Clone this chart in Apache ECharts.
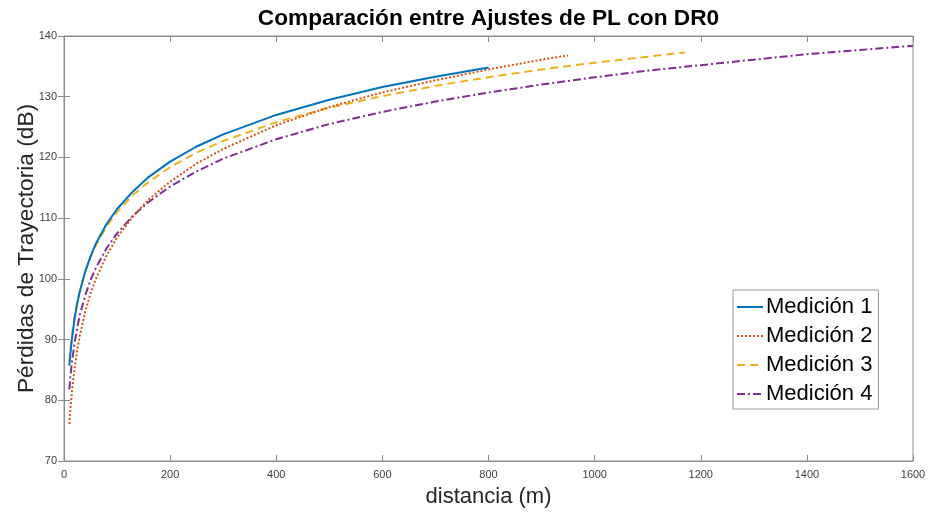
<!DOCTYPE html>
<html>
<head>
<meta charset="utf-8">
<script src="https://cdn.jsdelivr.net/npm/echarts@6/dist/echarts.min.js"></script>
<style>
  html, body { margin: 0; padding: 0; background: #fff; }
  #chart { width: 928px; height: 513px; }
</style>
</head>
<body>
<div id="chart"></div>
<script>
// distancias (m) y pérdidas (dB)
var dist1 = [10, 12, 15, 20, 25, 30, 40, 50, 60, 80, 100, 130, 160, 200, 250, 300, 400, 500, 600, 700, 800];
var med1  = [85.7, 87.7, 90.2, 93.5, 96.0, 98.0, 101.2, 103.7, 105.8, 109.0, 111.5, 114.4, 116.8, 119.3, 121.8, 123.8, 127.0, 129.5, 131.6, 133.3, 134.8];

var dist2 = [10, 12, 15, 20, 25, 30, 40, 50, 60, 80, 100, 130, 160, 200, 250, 300, 400, 500, 600, 700, 800, 900, 950];
var med2  = [76.1, 78.5, 81.5, 85.3, 88.3, 90.7, 94.6, 97.6, 100.0, 103.8, 106.8, 110.3, 113.1, 116.0, 119.0, 121.4, 125.3, 128.3, 130.7, 132.7, 134.5, 136.1, 136.8];

var dist3 = [10, 12, 15, 20, 25, 30, 40, 50, 60, 80, 100, 130, 160, 200, 250, 300, 400, 500, 600, 700, 800, 900, 1000, 1100, 1170];
var med3  = [86.4, 88.3, 90.7, 93.8, 96.2, 98.1, 101.2, 103.6, 105.5, 108.6, 111.0, 113.8, 116.0, 118.4, 120.8, 122.7, 125.8, 128.2, 130.1, 131.8, 133.2, 134.5, 135.6, 136.6, 137.3];

var dist4 = [10, 12, 15, 20, 25, 30, 40, 50, 60, 80, 100, 130, 160, 200, 250, 300, 400, 500, 600, 700, 800, 900, 1000, 1100, 1200, 1300, 1400, 1500, 1600];
var med4  = [81.8, 83.8, 86.3, 89.5, 92.0, 94.1, 97.3, 99.8, 101.8, 105.0, 107.5, 110.4, 112.7, 115.2, 117.7, 119.8, 123.0, 125.5, 127.5, 129.2, 130.7, 132.0, 133.2, 134.3, 135.2, 136.1, 137.0, 137.7, 138.4];

var nombres = ['Medición 1', 'Medición 2', 'Medición 3', 'Medición 4'];
var colores = ['#0072BD', '#D95319', '#EDB120', '#7E2F8E'];
var trazos  = ['solid', [2, 2], [8, 5], [8, 3, 2, 3]];

var fuente = "'Liberation Sans', Arial, Helvetica, sans-serif";

function pares(xs, ys) {
    var r = [];
    for (var i = 0; i < xs.length; i++) r.push([xs[i], ys[i]]);
    return r;
}

var datos = [pares(dist1, med1), pares(dist2, med2), pares(dist3, med3), pares(dist4, med4)];

var series = [];
for (var i = 0; i < datos.length; i++) {
    series.push({
        name: nombres[i],
        type: 'line',
        data: datos[i],
        symbol: 'none',
        smooth: false,
        color: colores[i],
        lineStyle: { width: 2, color: colores[i], type: trazos[i] },
        z: 10 - i
    });
}

var ejeColor = '#8c8c8c';
var sinComa = function (v) { return String(v); };

var option = {
    backgroundColor: '#fff',
    animation: false,
    textStyle: { fontFamily: fuente },
    grid: { left: 64, right: 15, top: 36, bottom: 52, show: true, borderColor: ejeColor, borderWidth: 1,
            containLabel: false, outerBoundsMode: 'none' },
    legend: {
        data: nombres,
        orient: 'vertical',
        left: 733,
        top: 290,
        itemWidth: 26,
        itemHeight: 14,
        itemGap: 7,
        padding: [6, 6, 4, 3],
        itemStyle: { opacity: 0, color: 'rgba(0,0,0,0)', borderWidth: 0 },
        textStyle: { fontSize: 22, color: '#000', fontFamily: fuente, padding: [0, 0, 0, -2] },
        borderColor: '#9a9a9a',
        borderWidth: 1,
        backgroundColor: '#fff'
    },
    xAxis: [{
        type: 'value', min: 0, max: 1600, interval: 200,
        name: 'distancia (m)', nameLocation: 'middle', nameGap: 25, nameMoveOverlap: false,
        nameTextStyle: { fontSize: 22, color: '#262626', fontFamily: fuente },
        axisLine: { lineStyle: { color: ejeColor } },
        axisTick: { inside: true, length: 6, lineStyle: { color: ejeColor } },
        axisLabel: { fontSize: 11, color: '#404040', margin: 8, formatter: sinComa },
        splitLine: { show: false }
    }, {
        type: 'value', min: 0, max: 1600, interval: 200, position: 'top',
        name: 'Comparación entre Ajustes de PL con DR0', nameLocation: 'middle', nameGap: 6, nameMoveOverlap: false,
        nameTextStyle: { fontSize: 22.7, fontWeight: 'bold', color: '#000', fontFamily: fuente },
        axisLine: { lineStyle: { color: ejeColor } },
        axisTick: { inside: true, length: 6, lineStyle: { color: ejeColor } },
        axisLabel: { show: false },
        splitLine: { show: false }
    }],
    yAxis: [{
        type: 'value', min: 70, max: 140, interval: 10,
        name: 'Pérdidas de Trayectoria (dB)', nameLocation: 'middle', nameGap: 26, nameMoveOverlap: false,
        nameTextStyle: { fontSize: 22.7, color: '#262626', fontFamily: fuente },
        axisLine: { show: true, lineStyle: { color: ejeColor } },
        axisTick: { show: true, inside: true, length: 6, lineStyle: { color: ejeColor } },
        axisLabel: { fontSize: 11, color: '#404040', margin: 7, formatter: sinComa },
        splitLine: { show: false }
    }, {
        type: 'value', min: 70, max: 140, interval: 10, position: 'right',
        axisLine: { show: true, lineStyle: { color: ejeColor } },
        axisTick: { show: true, inside: true, length: 6, lineStyle: { color: ejeColor } },
        axisLabel: { show: false },
        splitLine: { show: false }
    }],
    series: series
};

var chart = echarts.init(document.getElementById('chart'));
chart.setOption(option);
</script>
</body>
</html>
